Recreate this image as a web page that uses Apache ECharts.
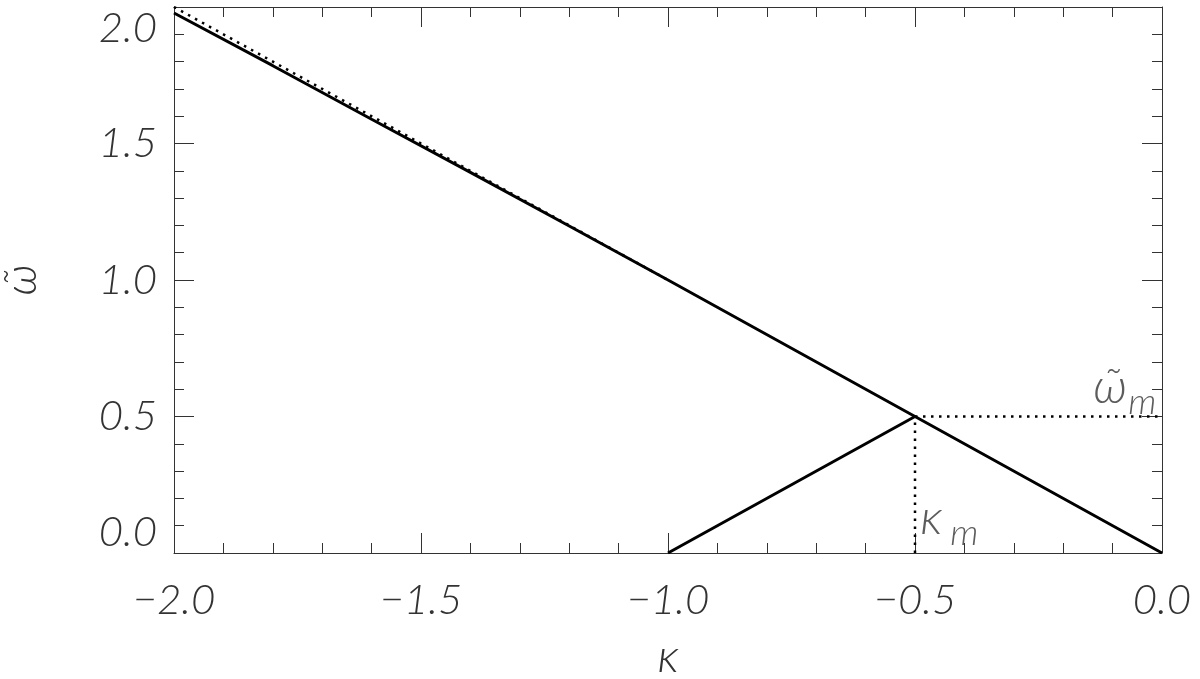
<!DOCTYPE html>
<html>
<head>
<meta charset="utf-8">
<script src="https://cdn.jsdelivr.net/npm/echarts@6/dist/echarts.min.js"></script>
<style>
  html, body { margin: 0; padding: 0; background: #fff; }
  #chart { width: 1200px; height: 679px; }
</style>
</head>
<body>
<div id="chart"></div>
<script>
// 上方的实线分支（左端略低于虚线）
const kappaUpper = [-2.0, -1.8, -1.6, -1.4, -1.2, -1.0, -0.5, 0.0]
const omegaUpper = [1.978, 1.785, 1.589, 1.394, 1.198, 1.0, 0.5, 0.0]
// 下方上升的实线分支
const kappaLower = [-1.0, -0.5]
const omegaLower = [0.0, 0.5]
// 虚线 ω = -κ
const kappaDotted = [-2.0, -1.5, -1.0]
const omegaDotted = [2.0, 1.5, 1.0]
// 最大值点 (κ_m, ω_m)
const kappaM = -0.5
const omegaM = 0.5
// 坐标轴刻度
const xTicks = [-2.0, -1.5, -1.0, -0.5, 0.0]
const yTicks = [0.0, 0.5, 1.0, 1.5, 2.0]

const pairs = (xs, ys) => xs.map((x, i) => [x, ys[i]])
const fmt = v => (v < 0 ? '\u2212' : '') + Math.abs(v).toFixed(1)

const labelFont = {
  fontFamily: '"Lato Light", "DejaVu Sans"',
  fontStyle: 'italic',
  fontWeight: 200,
  color: '#333'
}
const axisLine = { show: true, onZero: false, lineStyle: { color: '#333', width: 1 } }
const axisTick = { show: true, inside: true, length: 20, lineStyle: { color: '#333', width: 1 } }
const minorTick = { show: true, splitNumber: 5, length: 10, lineStyle: { color: '#333', width: 1 } }
const dotted = { color: '#000', width: 2.5, type: [2.5, 5.5] }

const chart = echarts.init(document.getElementById('chart'))

// 注释文字用不可见的散点承载
const textPoint = (x, y, text, size) => ({
  value: [x, y],
  label: {
    show: true,
    position: 'inside',
    formatter: text,
    fontSize: size,
    ...labelFont
  }
})

const option = {
  animation: false,
  grid: { left: 174, right: 38, top: 7, bottom: 126, containLabel: false, outerBoundsMode: 'none' },
  xAxis: [
    {
      type: 'value',
      min: xTicks[0],
      max: xTicks[xTicks.length - 1],
      interval: 0.5,
      position: 'bottom',
      name: 'κ',
      nameLocation: 'middle',
      nameGap: 80,
      nameTextStyle: { fontSize: 48, ...labelFont },
      axisLine,
      axisTick,
      minorTick,
      splitLine: { show: false },
      axisLabel: { fontSize: 42, margin: 26, formatter: fmt, ...labelFont }
    },
    {
      type: 'value',
      min: xTicks[0],
      max: xTicks[xTicks.length - 1],
      interval: 0.5,
      position: 'top',
      axisLine,
      axisTick,
      minorTick,
      splitLine: { show: false },
      axisLabel: { show: false }
    }
  ],
  yAxis: [
    {
      type: 'value',
      min: yTicks[0],
      max: yTicks[yTicks.length - 1],
      interval: 0.5,
      position: 'left',
      name: 'ω̃',
      nameLocation: 'middle',
      nameRotate: 90,
      nameGap: 130,
      nameTextStyle: { fontSize: 46, ...labelFont },
      axisLine,
      axisTick,
      minorTick,
      splitLine: { show: false },
      axisLabel: {
        fontSize: 42,
        margin: 17,
        formatter: fmt,
        verticalAlignMinLabel: 'bottom',
        verticalAlignMaxLabel: 'top',
        ...labelFont
      }
    },
    {
      type: 'value',
      min: yTicks[0],
      max: yTicks[yTicks.length - 1],
      interval: 0.5,
      position: 'right',
      axisLine,
      axisTick,
      minorTick,
      splitLine: { show: false },
      axisLabel: { show: false }
    }
  ],
  series: [
    {
      type: 'line',
      data: pairs(kappaDotted, omegaDotted),
      showSymbol: false,
      lineStyle: dotted,
      z: 1
    },
    {
      type: 'line',
      data: pairs(kappaUpper, omegaUpper),
      showSymbol: false,
      lineStyle: { color: '#000', width: 3 },
      z: 2
    },
    {
      type: 'line',
      data: pairs(kappaLower, omegaLower),
      showSymbol: false,
      lineStyle: { color: '#000', width: 3 },
      z: 2
    },
    {
      type: 'line',
      data: [[kappaM, omegaM], [0.0, omegaM]],
      showSymbol: false,
      lineStyle: dotted,
      z: 1
    },
    {
      type: 'line',
      data: [[kappaM, 0.0], [kappaM, omegaM]],
      showSymbol: false,
      lineStyle: dotted,
      z: 1
    },
    {
      type: 'scatter',
      symbolSize: 0,
      silent: true,
      data: [
        textPoint(-0.105, 0.61, 'ω̃', 50),
        textPoint(-0.04, 0.55, 'm', 36),
        textPoint(-0.467, 0.128, 'κ', 50),
        textPoint(-0.4, 0.072, 'm', 36)
      ]
    }
  ]
}

chart.setOption(option)
</script>
</body>
</html>
